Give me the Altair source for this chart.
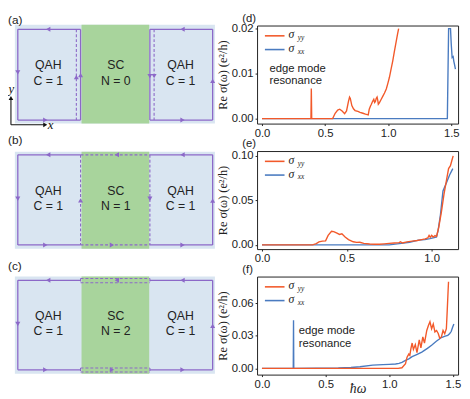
import altair as alt
import pandas as pd

# ---------------- colours / fonts ----------------
ORANGE = "#F2592A"
BLUE = "#4A7BC0"
PURPLE = "#8C68C8"
QAH_FILL = "#D9E5F1"
SC_FILL = "#A8D49C"
TEXT = "#222222"
SANS = "Liberation Sans"
SERIF = "Liberation Serif"

# ---------------- panel (d) data ----------------
d_yy_x = [0, 0.388, 0.391, 0.394, 0.56, 0.58, 0.60, 0.616, 0.635, 0.655, 0.67, 0.685, 0.694, 0.70,
          0.712, 0.725, 0.738, 0.76, 0.777, 0.80, 0.82, 0.842, 0.85, 0.86, 0.867, 0.876, 0.886,
          0.893, 0.899, 0.905, 0.912, 0.918, 0.922, 0.93, 0.945, 0.958, 0.971, 0.985, 0.997,
          1.01, 1.023, 1.036, 1.049, 1.058, 1.067, 1.075, 1.083]
d_yy_y = [0, 0, 0.0067, 0, 0, 0.0012, 0.0019, 0.0021, 0.0017, 0.0011, 0.0017, 0.0038, 0.0048, 0.0045,
          0.0029, 0.0022, 0.0018, 0.0016, 0.0014, 0.0012, 0.0010, 0.00085, 0.0021, 0.0028, 0.0032,
          0.0038, 0.0043, 0.0036, 0.0038, 0.0045, 0.0048, 0.0040, 0.0032, 0.0035, 0.0043, 0.0050,
          0.0057, 0.0066, 0.0078, 0.0092, 0.011, 0.0128, 0.0149, 0.0163, 0.0177, 0.0189, 0.020]
d_xx_x = [0, 1.469, 1.479, 1.494, 1.500, 1.507, 1.515, 1.520, 1.526, 1.533]
d_xx_y = [0, 0, 0.020, 0.020, 0.0165, 0.0136, 0.0138, 0.0128, 0.0120, 0.0110]

# ---------------- panel (e) data ----------------
e_yy_x = [0, 0.298, 0.32, 0.336, 0.356, 0.375, 0.39, 0.41, 0.423, 0.442, 0.457, 0.471, 0.49, 0.51,
          0.538, 0.558, 0.577, 0.60, 0.635, 0.665, 0.692, 0.72, 0.75, 0.78, 0.808, 0.817, 0.827,
          0.855, 0.885, 0.915, 0.942, 0.962, 0.977, 0.985, 0.992, 1.0, 1.01, 1.02, 1.029, 1.042,
          1.058, 1.073, 1.088, 1.1, 1.111, 1.119, 1.127]
e_yy_y = [0, 0, 0.0015, 0.0035, 0.0043, 0.0046, 0.0107, 0.0153, 0.015, 0.0132, 0.0118, 0.0125,
          0.0089, 0.006, 0.0035, 0.0029, 0.003, 0.0018, 0.001, 0.0007, 0.0007, 0.0012, 0.0018,
          0.0022, 0.0025, 0.0036, 0.0022, 0.0035, 0.0043, 0.005, 0.006, 0.0068, 0.0078, 0.0107,
          0.0085, 0.0107, 0.0088, 0.0105, 0.0096, 0.0196, 0.0375, 0.057, 0.073, 0.0857, 0.089,
          0.0945, 0.1]
e_xx_x = [0, 0.75, 0.81, 0.87, 0.923, 0.96, 0.99, 1.015, 1.029, 1.038, 1.052, 1.067, 1.087, 1.106, 1.125]
e_xx_y = [0, 0, 0.0015, 0.003, 0.0054, 0.006, 0.0071, 0.0082, 0.0089, 0.016, 0.0339, 0.0606,
          0.0696, 0.0785, 0.0857]

# ---------------- panel (f) data ----------------
f_yy_x = [0, 1.07, 1.10, 1.128, 1.14, 1.154, 1.162, 1.17, 1.18, 1.19, 1.205, 1.218, 1.236, 1.249,
          1.264, 1.277, 1.295, 1.308, 1.32, 1.333, 1.346, 1.359, 1.372, 1.385, 1.397, 1.41, 1.423,
          1.436, 1.449, 1.456, 1.462, 1.466]
f_yy_y = [0, 0, 0.0005, 0.0044, 0.0103, 0.0132, 0.012, 0.018, 0.0234, 0.0175, 0.022, 0.0146,
          0.0263, 0.019, 0.029, 0.0234, 0.035, 0.0395, 0.043, 0.0366, 0.041, 0.0337, 0.035,
          0.0322, 0.0278, 0.029, 0.035, 0.032, 0.0366, 0.054, 0.07, 0.08]
f_xx_x = [0, 0.246, 0.248, 0.25, 0.6, 0.7, 0.77, 0.87, 0.95, 1.0, 1.05, 1.077, 1.1, 1.128, 1.154,
          1.18, 1.22, 1.256, 1.3, 1.333, 1.37, 1.41, 1.44, 1.46, 1.474, 1.487, 1.498, 1.508]
f_xx_y = [0, 0, 0.0445, 0, 0.0003, 0.0008, 0.0015, 0.003, 0.0034, 0.0037, 0.004, 0.0046, 0.0055,
          0.0073, 0.0088, 0.0108, 0.013, 0.015, 0.0185, 0.0214, 0.025, 0.0285, 0.0298, 0.0305,
          0.032, 0.034, 0.038, 0.041]

# axis settings per panel
d_xdom, d_ydom = [-0.039, 1.554], [-0.0011, 0.0207]
e_xdom, e_ydom = [-0.029, 1.156], [-0.0047, 0.1054]
f_xdom, f_ydom = [-0.0385, 1.541], [-0.0058, 0.0848]
d_xticks, d_yticks = [0, 0.5, 1.0, 1.5], [0, 0.01, 0.02]
e_xticks, e_yticks = [0, 0.5, 1.0], [0, 0.05, 0.1]
f_xticks, f_yticks = [0, 0.5, 1.0, 1.5], [0, 0.03, 0.06]

note_text = ["edge mode", "resonance"]
d_note_x, d_note_y = [0.059, 0.059], [0.0110, 0.0083]
f_note_x, f_note_y = [0.289, 0.289], [0.0346, 0.0228]

YTITLE = "Re σ(ω) (e²/h)"
XTITLE = "ħω"

PW, PH = 205, 100     # plot panels
SW = 212              # schematic panels width


def make_plot(xo, yo, xb, yb, xdom, ydom, xticks, yticks, panel, notes=None, xtitle=None):
    dfo = pd.DataFrame({"x": xo, "y": yo})
    dfb = pd.DataFrame({"x": xb, "y": yb})
    one = pd.DataFrame({"t": [panel]})
    xs = alt.Scale(domain=xdom, nice=False, zero=False)
    ys = alt.Scale(domain=ydom, nice=False, zero=False)
    if xtitle:
        xaxis = alt.Axis(values=xticks, format=".1f", title=xtitle, titleFont=SERIF,
                         titleFontStyle="italic", titleFontSize=14, titleFontWeight="normal",
                         titleY=7, titleBaseline="top", titleColor=TEXT)
    else:
        xaxis = alt.Axis(values=xticks, format=".1f", title=None)
    yaxis = alt.Axis(values=yticks, format=".2f", title=YTITLE, titlePadding=2)
    X = alt.X("x:Q", scale=xs, axis=xaxis)
    Y = alt.Y("y:Q", scale=ys, axis=yaxis)

    def txt(s, size, x, y, font=SERIF, style="italic"):
        return alt.Chart(one).mark_text(text=s, font=font, fontStyle=style, fontSize=size,
                                        align="left", baseline="middle", color=TEXT).encode(
            x=alt.value(x), y=alt.value(y))

    layers = [
        alt.Chart(dfb).mark_line(color=BLUE, strokeWidth=1.4, clip=True).encode(x=X, y=Y),
        alt.Chart(dfo).mark_line(color=ORANGE, strokeWidth=1.4, clip=True).encode(x=X, y=Y),
        # legend
        alt.Chart(one).mark_rule(color=ORANGE, strokeWidth=1.6).encode(
            x=alt.value(8), x2=alt.value(28), y=alt.value(10.5)),
        alt.Chart(one).mark_rule(color=BLUE, strokeWidth=1.6).encode(
            x=alt.value(8), x2=alt.value(28), y=alt.value(24.5)),
        txt("σ", 12, 32, 9), txt("σ", 12, 32, 23),
        txt("yy", 7.5, 41.5, 13), txt("xx", 7.5, 41.5, 27),
        # panel label
        alt.Chart(one).mark_text(font=SANS, fontSize=11.5, align="left", baseline="top",
                                 color=TEXT).encode(
            x=alt.value(-15), y=alt.value(-13), text="t:N"),
    ]
    if notes is not None:
        nx, ny = notes
        ndf = pd.DataFrame({"x": nx, "y": ny, "t": note_text})
        layers.append(
            alt.Chart(ndf).mark_text(font=SANS, fontSize=11.5, align="left", baseline="middle",
                                     color=TEXT).encode(x=X, y=Y, text="t:N"))
    return alt.layer(*layers).properties(
        width=PW, height=PH, view=alt.ViewBackground(stroke="#222222", strokeWidth=1))


pd_chart = make_plot(d_yy_x, d_yy_y, d_xx_x, d_xx_y, d_xdom, d_ydom, d_xticks, d_yticks, "(d)",
                     notes=(d_note_x, d_note_y))
pe_chart = make_plot(e_yy_x, e_yy_y, e_xx_x, e_xx_y, e_xdom, e_ydom, e_xticks, e_yticks, "(e)")
pf_chart = make_plot(f_yy_x, f_yy_y, f_xx_x, f_xx_y, f_xdom, f_ydom, f_xticks, f_yticks, "(f)",
                     notes=(f_note_x, f_note_y), xtitle=XTITLE)

# ---------------- schematics (reference-pixel coordinates) ----------------
LX, RX, IL, IR = 12, 210.7, 76, 146.7
GL, GR, BL, BR = 77, 146, 9, 213
tops = [18, 149, 279]
bots = [113, 243.3, 373.3]
rtops = [13.3, 145.7, 275]
rbots = [116.7, 247.3, 377.3]
frame_dom = [[14, 116.7], [145, 247.7], [275, 378.3]]   # vertical extent matching plot frames


def panel_of(y):
    return 0 if y < 130 else (1 if y < 262 else 2)


rect_rows = []
for i, (t, b) in enumerate(zip(rtops, rbots)):
    rect_rows.append(dict(x=BL, x2=BR, y=t, y2=b, kind="QAH", p=i))
for i, (t, b) in enumerate(zip(rtops, rbots)):
    rect_rows.append(dict(x=GL, x2=GR, y=t, y2=b, kind="SC", p=i))
rects = pd.DataFrame(rect_rows)

solid, dashed = [], []
for i, (T, B) in enumerate(zip(tops, bots)):
    solid += [(LX, T, IL, T), (LX, T, LX, B), (LX, B, IL, B),
              (IR, T, RX, T), (RX, T, RX, B), (IR, B, RX, B)]
    if i == 0:
        solid += [(IL, T, IL, B), (IR, T, IR, B)]
        dashed += [(71.7, T, 71.7, B), (151, T, 151, B)]
    elif i == 1:
        dashed += [(IL, T, IR, T), (IL, B, IR, B), (IL, T, IL, B), (IR, T, IR, B)]
    else:
        for (a, c) in [(T - 1.9, T + 2.5), (B - 1.9, B + 2.3)]:
            dashed += [(IL, a, IR, a), (IL, c, IR, c), (IL, a, IL, c), (IR, a, IR, c)]


def seg_df(segs):
    df = pd.DataFrame(segs, columns=["x", "y", "x2", "y2"])
    df["p"] = [panel_of(v) for v in df["y"]]
    return df


def pt_df(rows, cols):
    df = pd.DataFrame(rows, columns=cols)
    df["p"] = [panel_of(v) for v in df["y"]]
    return df


arrows = [
    (43, 18, "L"), (12, 63, "D"), (40, 113, "R"), (71.7, 68, "U"), (76, 66, "U"),
    (180, 18, "L"), (146.7, 67, "D"), (151, 67, "D"), (180, 113, "R"), (210.7, 72, "U"),
    (43, 149, "L"), (113, 149, "L"), (180, 149, "L"), (12, 195, "D"), (76, 196.7, "U"),
    (146.7, 195, "D"), (210.7, 197, "U"), (40, 243.3, "R"), (108, 243.3, "R"), (180, 243.3, "R"),
    (43, 279, "L"), (113, 279, "L"), (180, 279, "L"), (12, 325, "D"), (210.7, 327, "U"),
    (40, 373.3, "R"), (108, 373.3, "R"), (180, 373.3, "R"),
]
arrow_df = pt_df(arrows, ["x", "y", "d"])

coord_segs = seg_df([(5, 118, 5, 91), (5, 118, 39, 118)])
coord_arrows = pt_df([(5, 90, "U"), (40, 118, "R")], ["x", "y", "d"])
coord_labels = pt_df([(5.5, 81, "y"), (45.5, 118, "x")], ["x", "y", "t"])

schem_text = pt_df(list(zip(
    [43, 43, 112, 112, 178, 178] * 3,
    [55, 72, 55, 72, 55, 72, 186.7, 202.3, 186.7, 202.3, 186.7, 202.3,
     316.7, 332.3, 316.7, 332.3, 316.7, 332.3],
    ["QAH", "C = 1", "SC", "N = 0", "QAH", "C = 1",
     "QAH", "C = 1", "SC", "N = 1", "QAH", "C = 1",
     "QAH", "C = 1", "SC", "N = 2", "QAH", "C = 1"])), ["x", "y", "t"])
panel_labels = pt_df([(2, 8, "(a)"), (2, 133, "(b)"), (2, 264, "(c)")], ["x", "y", "t"])

shape_enc = alt.Shape("d:N", scale=alt.Scale(domain=["L", "R", "U", "D"],
                                             range=["triangle-left", "triangle-right",
                                                    "triangle-up", "triangle-down"]),
                      legend=None)


def schematic(i):
    sx = alt.Scale(domain=[2, 2 + SW], nice=False, zero=False)
    sy = alt.Scale(domain=frame_dom[i], nice=False, zero=False, reverse=True)
    SX = alt.X("x:Q", scale=sx, axis=None)
    SY = alt.Y("y:Q", scale=sy, axis=None)
    flt = alt.datum.p == i
    layers = [
        alt.Chart(rects).mark_rect().encode(
            x=SX, x2="x2:Q", y=SY, y2="y2:Q",
            color=alt.Color("kind:N", scale=alt.Scale(domain=["QAH", "SC"],
                                                      range=[QAH_FILL, SC_FILL]),
                            legend=None)).transform_filter(flt),
        alt.Chart(seg_df(solid)).mark_rule(color=PURPLE, strokeWidth=1.3).encode(
            x=SX, y=SY, x2="x2:Q", y2="y2:Q").transform_filter(flt),
        alt.Chart(seg_df(dashed)).mark_rule(color=PURPLE, strokeWidth=1.1,
                                            strokeDash=[3, 2]).encode(
            x=SX, y=SY, x2="x2:Q", y2="y2:Q").transform_filter(flt),
        alt.Chart(arrow_df).mark_point(filled=True, size=26, opacity=1, color=PURPLE).encode(
            x=SX, y=SY, shape=shape_enc).transform_filter(flt),
        alt.Chart(schem_text).mark_text(font=SANS, fontSize=12.5, baseline="middle",
                                        align="center", color=TEXT).encode(
            x=SX, y=SY, text="t:N").transform_filter(flt),
        alt.Chart(panel_labels).mark_text(font=SANS, fontSize=12, baseline="middle",
                                          align="left", color=TEXT).encode(
            x=SX, y=SY, text="t:N").transform_filter(flt),
    ]
    if i == 0:
        layers += [
            alt.Chart(coord_segs).mark_rule(color="#111111", strokeWidth=1.1).encode(
                x=SX, y=SY, x2="x2:Q", y2="y2:Q"),
            alt.Chart(coord_arrows).mark_point(filled=True, size=22, opacity=1,
                                               color="#111111").encode(
                x=SX, y=SY, shape=shape_enc),
            alt.Chart(coord_labels).mark_text(font=SERIF, fontStyle="italic", fontSize=13,
                                              baseline="middle", align="center",
                                              color="#111111").encode(
                x=SX, y=SY, text="t:N"),
        ]
    return alt.layer(*layers).properties(width=SW, height=PH)


chart = alt.concat(
    schematic(0), pd_chart,
    schematic(1), pe_chart,
    schematic(2), pf_chart,
    columns=2, spacing=alt.RowColnumber(row=28, column=42), bounds="flush", padding=0,
).configure_view(
    strokeWidth=0
).configure_axis(
    grid=False, domain=False, tickSize=2, tickColor=TEXT, labelColor=TEXT,
    labelFont=SANS, labelFontSize=11.5, labelPadding=2,
    titleFont=SERIF, titleFontSize=12.5, titleFontWeight="normal", titleColor=TEXT,
)

chart.save("out.html", embed_options={"renderer": "svg", "actions": False})
